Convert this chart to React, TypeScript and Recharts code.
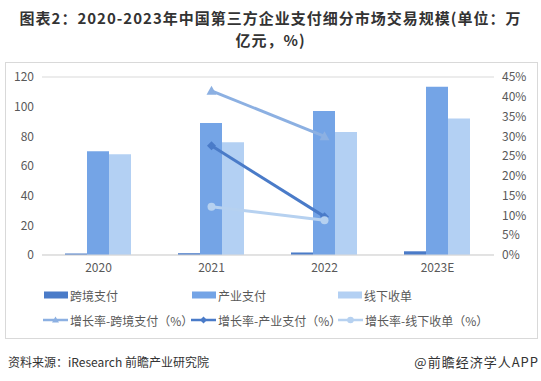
import { ComposedChart, Bar, Line, XAxis, YAxis, CartesianGrid } from 'recharts';

const years = ['2020', '2021', '2022', '2023E'];
const crossBorder = [1.0, 1.2, 1.7, 2.5];
const industrial = [70, 89, 97, 113.5];
const offline = [68, 76, 83, 92];
const growthCross = [null, 41.5, 30, null];
const growthIndustrial = [null, 27.6, 9.7, null];
const growthOffline = [null, 12.2, 8.8, null];

const leftTicks = [0, 20, 40, 60, 80, 100, 120];
const rightTicks = [0, 5, 10, 15, 20, 25, 30, 35, 40, 45];

const C_CROSS = '#4a7bc8';
const C_IND = '#74a4e6';
const C_OFF = '#b3d0f3';
const C_G_CROSS = '#8cb0e2';
const C_G_IND = '#4a7bc8';
const C_G_OFF = '#b6d1f0';

const data = years.map((y, i) => ({
  year: y,
  cross: crossBorder[i],
  industrial: industrial[i],
  offline: offline[i],
  gCross: growthCross[i],
  gInd: growthIndustrial[i],
  gOff: growthOffline[i],
}));

const FONT = '"Noto Sans CJK SC", "Noto Sans", sans-serif';

const legendItems = [
  { name: '跨境支付', color: C_CROSS, kind: 'bar', x: 44, y: 295 },
  { name: '产业支付', color: C_IND, kind: 'bar', x: 192, y: 295 },
  { name: '线下收单', color: C_OFF, kind: 'bar', x: 338, y: 295 },
  { name: '增长率-跨境支付（%）', color: C_G_CROSS, kind: 'triangle', x: 43, y: 320 },
  { name: '增长率-产业支付（%）', color: C_G_IND, kind: 'diamond', x: 191, y: 320 },
  { name: '增长率-线下收单（%）', color: C_G_OFF, kind: 'circle', x: 338, y: 320 },
];

const Swatch = ({ kind, color }: { kind: string; color: string }) => {
  if (kind === 'bar') {
    return (
      <svg width={24} height={10} style={{ display: 'block' }}>
        <rect x={0} y={1.5} width={24} height={7} fill={color} />
      </svg>
    );
  }
  return (
    <svg width={25} height={10} style={{ display: 'block' }}>
      <line x1={0} y1={5} x2={25} y2={5} stroke={color} strokeWidth={2.5} />
      {kind === 'triangle' && <polygon points="12.5,1.5 16,7.5 9,7.5" fill={color} />}
      {kind === 'diamond' && <polygon points="12.5,1.5 16,5 12.5,8.5 9,5" fill={color} />}
      {kind === 'circle' && <circle cx={12.5} cy={5} r={3.3} fill={color} />}
    </svg>
  );
};

const Tri = (props: any) => {
  const { cx, cy } = props;
  if (cx == null || cy == null || props.value == null) return <g />;
  return <polygon points={`${cx},${cy - 5} ${cx + 5},${cy + 4} ${cx - 5},${cy + 4}`} fill={C_G_CROSS} />;
};

const Dia = (props: any) => {
  const { cx, cy } = props;
  if (cx == null || cy == null || props.value == null) return <g />;
  return <polygon points={`${cx},${cy - 4.5} ${cx + 4.5},${cy} ${cx},${cy + 4.5} ${cx - 4.5},${cy}`} fill={C_G_IND} />;
};

const Dot = (props: any) => {
  const { cx, cy } = props;
  if (cx == null || cy == null || props.value == null) return <g />;
  return <circle cx={cx} cy={cy} r={4} fill={C_G_OFF} />;
};

const titleStyle = {
  position: 'absolute' as const,
  left: 0,
  width: 541,
  height: 22,
  textAlign: 'center' as const,
  fontSize: 15,
  letterSpacing: 1,
  fontWeight: 700,
  lineHeight: '22px',
  color: '#333',
  whiteSpace: 'nowrap' as const,
};

export default function App() {
  return (
    <div
      style={{
        position: 'absolute',
        left: 0,
        top: 0,
        width: 541,
        height: 381,
        background: '#fff',
        fontFamily: FONT,
        overflow: 'hidden',
      }}
    >
      <div style={{ ...titleStyle, top: 7 }}>图表2：2020-2023年中国第三方企业支付细分市场交易规模(单位：万</div>
      <div style={{ ...titleStyle, top: 29 }}>亿元，%)</div>

      <div
        style={{
          position: 'absolute',
          left: 5,
          top: 62,
          width: 531,
          height: 275,
          border: '1px solid #d9d9d9',
        }}
      />

      <div style={{ position: 'absolute', left: 5, top: 62 }}>
        <ComposedChart
          width={532}
          height={276}
          data={data}
          margin={{ top: 15, right: 0, left: 0, bottom: 58 }}
          barCategoryGap={23}
          barGap={0}
        >
          <CartesianGrid vertical={false} stroke="#d9d9d9" />
          <XAxis
            dataKey="year"
            tickLine={false}
            axisLine={{ stroke: '#d9d9d9' }}
            tick={{ fill: '#595959', fontSize: 12, fontFamily: FONT }}
            height={25}
          />
          <YAxis
            yAxisId="left"
            domain={[0, 120]}
            ticks={leftTicks}
            interval={0}
            axisLine={false}
            tickLine={false}
            width={37}
            tick={{ fill: '#595959', fontSize: 12, fontFamily: FONT }}
          />
          <YAxis
            yAxisId="right"
            orientation="right"
            domain={[0, 45]}
            ticks={rightTicks}
            interval={0}
            axisLine={false}
            tickLine={false}
            width={43}
            tickFormatter={(v) => `${v}%`}
            tick={{ fill: '#595959', fontSize: 12, fontFamily: FONT }}
          />
          <Bar yAxisId="left" dataKey="cross" name="跨境支付" fill={C_CROSS} isAnimationActive={false} />
          <Bar yAxisId="left" dataKey="industrial" name="产业支付" fill={C_IND} isAnimationActive={false} />
          <Bar yAxisId="left" dataKey="offline" name="线下收单" fill={C_OFF} isAnimationActive={false} />
          <Line
            yAxisId="right"
            dataKey="gCross"
            name="增长率-跨境支付（%）"
            stroke={C_G_CROSS}
            strokeWidth={3}
            dot={<Tri />}
            activeDot={false}
            isAnimationActive={false}
          />
          <Line
            yAxisId="right"
            dataKey="gInd"
            name="增长率-产业支付（%）"
            stroke={C_G_IND}
            strokeWidth={3}
            dot={<Dia />}
            activeDot={false}
            isAnimationActive={false}
          />
          <Line
            yAxisId="right"
            dataKey="gOff"
            name="增长率-线下收单（%）"
            stroke={C_G_OFF}
            strokeWidth={3}
            dot={<Dot />}
            activeDot={false}
            isAnimationActive={false}
          />
        </ComposedChart>
      </div>

      {legendItems.map((it) => (
        <div
          key={it.name}
          style={{
            position: 'absolute',
            left: it.x,
            top: it.y - 9,
            height: 18,
            display: 'flex',
            alignItems: 'center',
            fontSize: 12,
            color: '#595959',
            whiteSpace: 'nowrap',
          }}
        >
          <Swatch kind={it.kind} color={it.color} />
          <span style={{ marginLeft: 2 }}>{it.name}</span>
        </div>
      ))}

      <div
        style={{
          position: 'absolute',
          left: 8,
          top: 353,
          fontSize: 12,
          color: '#333',
          whiteSpace: 'nowrap',
        }}
      >
        资料来源：iResearch 前瞻产业研究院
      </div>
      <div
        style={{
          position: 'absolute',
          right: 2,
          top: 352,
          fontSize: 13,
          letterSpacing: 1,
          color: '#333',
          whiteSpace: 'nowrap',
        }}
      >
        @前瞻经济学人APP
      </div>
    </div>
  );
}
